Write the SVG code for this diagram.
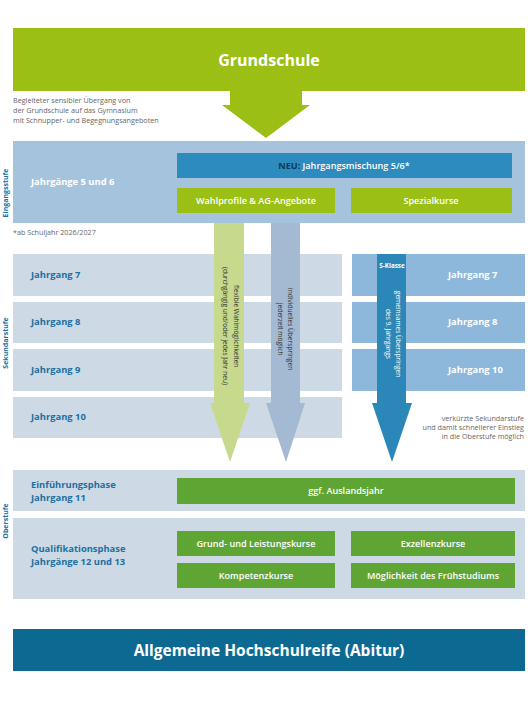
<svg xmlns="http://www.w3.org/2000/svg" width="528" height="704" viewBox="0 0 528 704">
<style>
text{font-family:"Open Sans","Liberation Sans",sans-serif}
.band{fill:#a6c3dd}
.row{fill:#cdd9e5}
.srow{fill:#8db8dc}
.lime{fill:#9bbf14}
.dg{fill:#5fa533}
.lab{font-size:9.4px;font-weight:700;fill:#1c6fa1}
.wlab{font-size:9.4px;font-weight:700;fill:#ffffff}
.box{font-size:9.1px;font-weight:600;fill:#ffffff;text-anchor:middle}
.side{font-size:7px;font-weight:700;fill:#1c6fa1;text-anchor:middle}
.note{font-size:7.2px;fill:#666666}
.arr{font-size:6.6px;fill:#333333}
</style>
<rect width="528" height="704" fill="#ffffff"/>

<g id="grundschule">
<rect class="lime" x="13" y="28" width="512" height="63"/>
<polygon class="lime" points="230,90 302,90 302,105 310,105 266,138 222,105 230,105"/>
<text x="269" y="66" font-size="16" font-weight="700" fill="#ffffff" text-anchor="middle">Grundschule</text>
</g>
<g id="uebergang-text">
<text class="note" x="13" y="103">Begleiteter sensibler Übergang von</text>
<text class="note" x="13" y="113">der Grundschule auf das Gymnasium</text>
<text class="note" x="13" y="123">mit Schnupper- und Begegnungsangeboten</text>
</g>

<g id="eingangsstufe">
<rect class="band" x="13" y="141" width="512" height="82"/>
<text class="lab" style="fill:#ffffff" x="31" y="185">Jahrgänge 5 und 6</text>
<text class="side" transform="translate(8,193) rotate(-90)">Eingangsstufe</text>
</g>
<g id="neu">
<rect x="177" y="153" width="335" height="25" fill="#2d8bbd"/>
<text class="box" x="344" y="169"><tspan fill="#0e3a5c" font-weight="700">NEU:</tspan> Jahrgangsmischung 5/6*</text>
</g>
<g id="wahlprofile">
<rect class="lime" x="177" y="188" width="158" height="25"/>
<text class="box" x="256" y="204">Wahlprofile &amp; AG-Angebote</text>
</g>
<g id="spezialkurse">
<rect class="lime" x="351" y="188" width="161" height="25"/>
<text class="box" x="431" y="204">Spezialkurse</text>
</g>
<text class="note" x="13" y="235">*ab Schuljahr 2026/2027</text>

<g id="sekundarstufe">
<rect class="row" x="13" y="254" width="329" height="42"/>
<rect class="row" x="13" y="302" width="329" height="41"/>
<rect class="row" x="13" y="349" width="329" height="42"/>
<rect class="row" x="13" y="397" width="329" height="41"/>
<text class="lab" x="31" y="278">Jahrgang 7</text>
<text class="lab" x="31" y="325">Jahrgang 8</text>
<text class="lab" x="31" y="373">Jahrgang 9</text>
<text class="lab" x="31" y="420">Jahrgang 10</text>
<text class="side" transform="translate(8,343) rotate(-90)">Sekundarstufe</text>
</g>
<g id="s-klasse-rows">
<rect class="srow" x="352" y="254" width="173" height="42"/>
<rect class="srow" x="352" y="302" width="173" height="41"/>
<rect class="srow" x="352" y="349" width="173" height="42"/>
<text class="wlab" x="448" y="278">Jahrgang 7</text>
<text class="wlab" x="448" y="325">Jahrgang 8</text>
<text class="wlab" x="448" y="373">Jahrgang 10</text>
</g>

<g id="connectors">
<polygon fill="#c6d98c" points="214,223 244,223 244,403 250,403 230,462 210,403 214,403"/>
<polygon fill="#a4bad2" points="271,223 300,223 300,403 305,403 286,462 266,403 271,403"/>
<polygon fill="#2b87b8" points="377,254 406,254 406,403 412,403 392,462 372,403 377,403"/>
<text class="arr" transform="translate(234,285) rotate(90)">flexible Wahlmöglichkeiten</text>
<text class="arr" transform="translate(223,267) rotate(90)">(durchgängig und/oder jedes Jahr neu)</text>
<text class="arr" transform="translate(288,288) rotate(90)">individuelles Überspringen</text>
<text class="arr" transform="translate(278,303) rotate(90)">jederzeit möglich</text>
<text class="arr" style="fill:#ffffff" transform="translate(396,334) rotate(90)" text-anchor="middle">gemeinsames Überspringen</text>
<text class="arr" style="fill:#ffffff" transform="translate(386,334) rotate(90)" text-anchor="middle">des 9. Jahrgangs</text>
<text x="392" y="268" font-size="6.3" font-weight="700" fill="#ffffff" text-anchor="middle">S-Klasse</text>
</g>
<g id="verkuerzt-text">
<text class="note" x="524" y="421" text-anchor="end">verkürzte Sekundarstufe</text>
<text class="note" x="524" y="430" text-anchor="end">und damit schnellerer Einstieg</text>
<text class="note" x="524" y="439" text-anchor="end">in die Oberstufe möglich</text>
</g>

<g id="einfuehrungsphase">
<rect class="row" x="13" y="470" width="512" height="41"/>
<text class="lab" x="31" y="488">Einführungsphase</text>
<text class="lab" x="31" y="500.5">Jahrgang 11</text>
<rect class="dg" x="177" y="478" width="338" height="26"/>
<text class="box" x="346" y="494">ggf. Auslandsjahr</text>
</g>
<g id="qualifikationsphase">
<rect class="row" x="13" y="518" width="512" height="81"/>
<text class="lab" x="31" y="552">Qualifikationsphase</text>
<text class="lab" x="31" y="564.5">Jahrgänge 12 und 13</text>
<text class="side" transform="translate(8,521) rotate(-90)">Oberstufe</text>
</g>
<g id="grundkurse">
<rect class="dg" x="177" y="531" width="158" height="25"/>
<text class="box" x="256" y="546.5">Grund- und Leistungskurse</text>
</g>
<g id="exzellenzkurse">
<rect class="dg" x="351" y="531" width="164" height="25"/>
<text class="box" x="433" y="546.5">Exzellenzkurse</text>
</g>
<g id="kompetenzkurse">
<rect class="dg" x="177" y="563" width="158" height="25"/>
<text class="box" x="256" y="578.5">Kompetenzkurse</text>
</g>
<g id="fruehstudium">
<rect class="dg" x="351" y="563" width="164" height="25"/>
<text class="box" x="433" y="578.5">Möglichkeit des Frühstudiums</text>
</g>

<g id="abitur">
<rect x="13" y="629" width="512" height="42" fill="#0c6a92"/>
<text x="269" y="656" font-size="15.5" font-weight="700" fill="#ffffff" text-anchor="middle">Allgemeine Hochschulreife (Abitur)</text>
</g>
</svg>
